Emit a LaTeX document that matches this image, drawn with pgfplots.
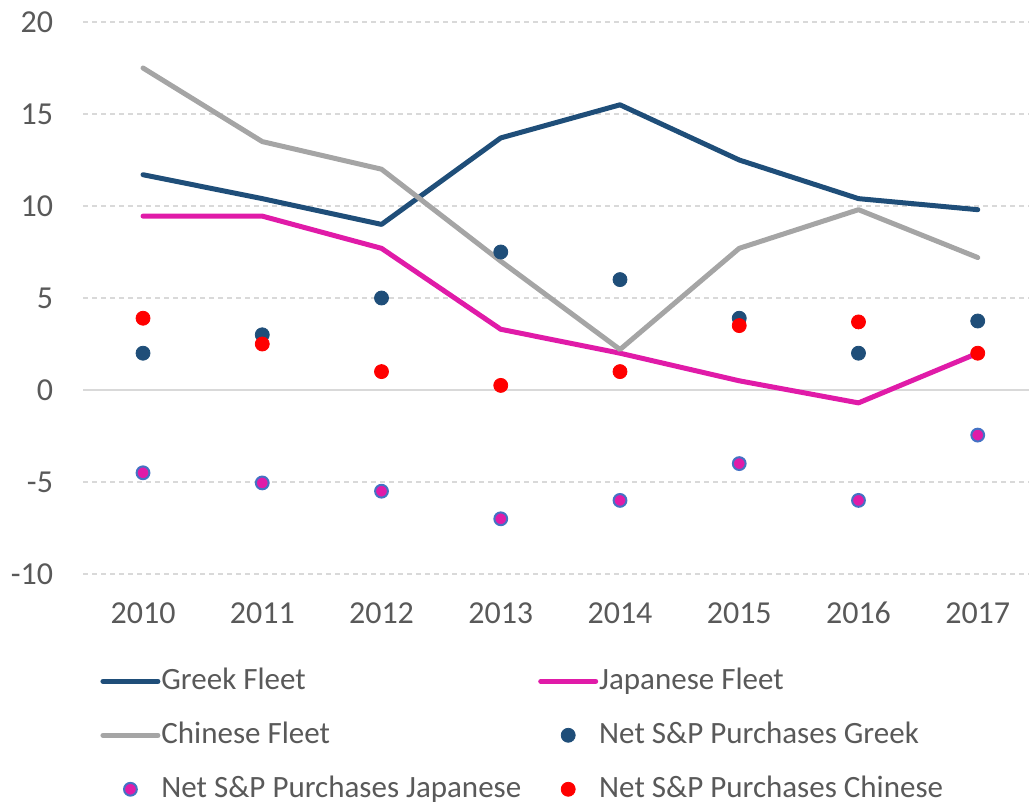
\documentclass[border=0pt]{standalone}
\usepackage{fontspec}
\setmainfont{Carlito}
\usepackage{pgfplots}
\pgfplotsset{compat=1.18}

\definecolor{greek}{HTML}{1F4E79}
\definecolor{japan}{HTML}{E01BA8}
\definecolor{china}{HTML}{A5A5A5}
\definecolor{sred}{HTML}{FF0000}
\definecolor{jpedge}{HTML}{4472C4}
\definecolor{txt}{HTML}{595959}
\definecolor{gridc}{HTML}{D9D9D9}

\begin{document}
\begin{tikzpicture}
\path[use as bounding box] (-41.7pt,-115pt) rectangle (472.8pt,287pt);
\begin{axis}[
    at={(0,0)}, anchor=south west,
    width=472.8pt, height=276pt, scale only axis,
    xmin=-0.5, xmax=7.43, ymin=-10, ymax=20,
    xtick={0,1,2,3,4,5,6,7},
    xticklabels={2010,2011,2012,2013,2014,2015,2016,2017},
    ytick={-10,-5,5,10,15,20},
    extra y ticks={0},
    extra y tick style={grid style={solid, draw=gridc, line width=0.9pt}},
    /pgf/number format/assume math mode=true,
    ymajorgrids, grid style={draw=gridc, line width=0.75pt, dash pattern=on 2.5pt off 2pt},
    axis line style={draw=none}, major tick length=0pt,
    tick label style={font=\fontsize{16}{19}\selectfont, text=txt},
    xticklabel style={anchor=base, yshift=-24.5pt},
    yticklabel style={anchor=east, inner sep=0pt, xshift=-15pt},
    clip=false,
    legend columns=2,
    legend cell align=left,
    legend style={at={(0.0176,-0.161)}, anchor=north west, draw=none, fill=none,
        inner sep=0pt, column sep=0pt, row sep=9pt,
        font=\fontsize{15.5}{19}\selectfont, text=txt,
        nodes={text height=12pt, text depth=4pt, inner xsep=0.5pt, inner ysep=1pt},
        /tikz/every even column/.append style={column sep=8pt}},
    legend image code/.code={\draw[mark repeat=2, mark phase=2, #1] plot coordinates {(1.25pt,0pt) (15pt,0pt) (28.75pt,0pt)};},
]
\addplot[greek, line width=2.5pt, mark=none, line join=round, line cap=round] coordinates {
    (0,11.7) (1,10.4) (2,9.0) (3,13.7) (4,15.5) (5,12.5) (6,10.4) (7,9.8)
};
\addlegendentry{Greek Fleet}
\addplot[japan, line width=2.5pt, mark=none, line join=round, line cap=round] coordinates {
    (0,9.45) (1,9.45) (2,7.7) (3,3.3) (4,2.0) (5,0.5) (6,-0.7) (7,2.0)
};
\addlegendentry{Japanese Fleet}
\addplot[china, line width=2.5pt, mark=none, line join=round, line cap=round] coordinates {
    (0,17.5) (1,13.5) (2,12.0) (3,7.0) (4,2.2) (5,7.7) (6,9.8) (7,7.2)
};
\addlegendentry{Chinese Fleet}
\addplot[only marks, mark=*, mark size=3.5pt, draw=greek, fill=greek] coordinates {
    (0,2.0) (1,3.0) (2,5.0) (3,7.5) (4,6.0) (5,3.9) (6,2.0) (7,3.75)
};
\addlegendentry{Net S\&P Purchases Greek}
\addplot[only marks, mark=*, mark size=3.2pt, draw=jpedge, fill=japan, line width=1pt] coordinates {
    (0,-4.5) (1,-5.05) (2,-5.5) (3,-7.0) (4,-6.0) (5,-4.0) (6,-6.0) (7,-2.45)
};
\addlegendentry{Net S\&P Purchases Japanese}
\addplot[only marks, mark=*, mark size=3.5pt, draw=sred, fill=sred] coordinates {
    (0,3.9) (1,2.5) (2,1.0) (3,0.25) (4,1.0) (5,3.5) (6,3.7) (7,2.0)
};
\addlegendentry{Net S\&P Purchases Chinese}
\end{axis}
\end{tikzpicture}
\end{document}
